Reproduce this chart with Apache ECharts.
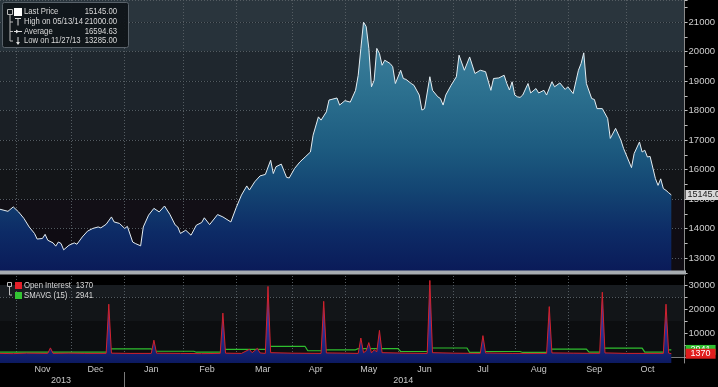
<!DOCTYPE html>
<html><head><meta charset="utf-8">
<script src="https://cdn.jsdelivr.net/npm/echarts@6/dist/echarts.min.js"></script>
<style>html,body{margin:0;padding:0;background:#000;}#c{width:718px;height:387px;}</style>
</head><body><div id="c"></div>
<script>
// ---------------- data ----------------
const axisStart = '2013-10-24';
const axisEnd = '2014-10-31';
const holidays = ['2013-12-25','2013-12-26','2014-01-01','2014-04-18','2014-04-21','2014-05-05','2014-05-26','2014-08-25'];
const monthNames = ['Jan','Feb','Mar','Apr','May','Jun','Jul','Aug','Sep','Oct','Nov','Dec'];

const priceDates = ['2013-10-24','2013-10-29','2013-10-31','2013-11-04','2013-11-06','2013-11-08','2013-11-12','2013-11-13','2013-11-15','2013-11-18','2013-11-19','2013-11-21','2013-11-22','2013-11-25','2013-11-26','2013-11-27','2013-11-29','2013-12-03','2013-12-04','2013-12-06','2013-12-10','2013-12-12','2013-12-16','2013-12-17','2013-12-19','2013-12-23','2013-12-24','2013-12-30','2014-01-02','2014-01-03','2014-01-07','2014-01-08','2014-01-10','2014-01-13','2014-01-15','2014-01-17','2014-01-21','2014-01-23','2014-01-27','2014-01-29','2014-01-30','2014-01-31','2014-02-04','2014-02-06','2014-02-10','2014-02-12','2014-02-13','2014-02-17','2014-02-20','2014-02-24','2014-02-27','2014-03-03','2014-03-05','2014-03-07','2014-03-10','2014-03-12','2014-03-14','2014-03-18','2014-03-20','2014-03-21','2014-03-24','2014-03-26','2014-03-28','2014-03-31','2014-04-02','2014-04-04','2014-04-08','2014-04-10','2014-04-11','2014-04-15','2014-04-16','2014-04-22','2014-04-23','2014-04-28','2014-04-29','2014-05-01','2014-05-06','2014-05-08','2014-05-09','2014-05-12','2014-05-13','2014-05-14','2014-05-15','2014-05-16','2014-05-19','2014-05-20','2014-05-21','2014-05-22','2014-05-23','2014-05-28','2014-05-29','2014-05-30','2014-06-03','2014-06-04','2014-06-05','2014-06-09','2014-06-10','2014-06-12','2014-06-13','2014-06-16','2014-06-18','2014-06-19','2014-06-23','2014-06-24','2014-06-25','2014-06-26','2014-06-30','2014-07-02','2014-07-03','2014-07-07','2014-07-09','2014-07-11','2014-07-15','2014-07-17','2014-07-21','2014-07-22','2014-07-24','2014-07-28','2014-07-29','2014-07-30','2014-07-31','2014-08-01','2014-08-04','2014-08-05','2014-08-06','2014-08-08','2014-08-11','2014-08-13','2014-08-14','2014-08-18','2014-08-19','2014-08-21','2014-08-22','2014-08-27','2014-08-29','2014-09-01','2014-09-03','2014-09-05','2014-09-08','2014-09-09','2014-09-10','2014-09-12','2014-09-15','2014-09-16','2014-09-18','2014-09-22','2014-09-23','2014-09-25','2014-09-29','2014-09-30','2014-10-03','2014-10-06','2014-10-08','2014-10-09','2014-10-10','2014-10-13','2014-10-14','2014-10-16','2014-10-17','2014-10-20','2014-10-21','2014-10-22','2014-10-23','2014-10-24'];
const priceValues = [14660,14590,14740,14570,14350,14060,13840,13650,13670,13810,13610,13520,13410,13550,13500,13285,13440,13520,13475,13720,13920,14010,14060,14030,14150,14400,14230,14180,14010,14080,13550,13500,13420,14060,14460,14690,14570,14770,14490,14130,14060,13840,13950,13780,14120,14210,14370,14140,14480,14400,14230,14710,15140,15450,15310,15590,15790,15840,16320,15870,16100,16190,15740,15720,16040,16260,16430,16600,17170,17790,17680,17960,18360,18430,18190,18340,18290,18690,19200,20110,21000,20850,20110,18810,19030,20110,19940,19540,19710,19600,19490,18920,19370,19090,19060,18920,18860,18530,18020,18070,19150,18690,18470,18410,18190,18530,18860,19150,19880,19370,19820,19260,19370,19320,18690,19090,19110,19200,18920,18700,18980,18530,18470,18450,18530,18920,18600,18750,18600,18690,18530,18980,18810,18940,18720,18810,18580,19370,19600,19960,18920,18410,18380,18070,18070,17740,17060,17400,17000,16720,16070,16550,16940,16600,16660,16430,16450,15700,15470,15690,15360,15300,15220,15145];
const averagePrice = 16594.63;

const oiDates = ['2013-10-24','2013-10-31','2013-11-07','2013-11-19','2013-11-20','2013-11-21','2013-11-29','2013-12-09','2013-12-19','2013-12-20','2013-12-23','2014-01-06','2014-01-16','2014-01-17','2014-01-20','2014-01-31','2014-02-12','2014-02-21','2014-02-24','2014-02-25','2014-03-05','2014-03-10','2014-03-11','2014-03-13','2014-03-14','2014-03-18','2014-03-19','2014-03-20','2014-04-01','2014-04-16','2014-04-17','2014-04-22','2014-05-01','2014-05-09','2014-05-12','2014-05-13','2014-05-14','2014-05-15','2014-05-16','2014-05-19','2014-05-20','2014-05-21','2014-05-22','2014-06-05','2014-06-17','2014-06-18','2014-06-19','2014-07-01','2014-07-15','2014-07-16','2014-07-17','2014-07-31','2014-08-19','2014-08-20','2014-08-21','2014-09-03','2014-09-17','2014-09-18','2014-09-19','2014-10-01','2014-10-21','2014-10-22','2014-10-23','2014-10-24'];
const oiValues = [1500,1400,1600,1500,3800,1500,1600,1500,1500,22000,1600,1500,1500,7000,1600,1500,1400,1500,18300,1600,1500,3200,1800,3600,1700,1500,29400,1800,1600,1500,23200,1700,1600,1500,7900,1800,2600,6000,1700,3000,2200,11100,1800,1600,1500,31900,1800,1600,1500,8900,1700,1500,1500,21000,1700,1600,1500,27000,1700,1500,1500,22000,1600,1370];
const smaDates = ['2013-10-24','2013-12-19','2013-12-20','2014-01-16','2014-01-17','2014-02-07','2014-02-10','2014-02-21','2014-02-24','2014-03-18','2014-03-19','2014-04-08','2014-04-09','2014-04-16','2014-04-17','2014-05-08','2014-05-09','2014-06-02','2014-06-03','2014-06-17','2014-06-18','2014-07-08','2014-07-09','2014-07-15','2014-07-16','2014-08-05','2014-08-06','2014-08-19','2014-08-20','2014-09-10','2014-09-11','2014-09-17','2014-09-18','2014-10-09','2014-10-10','2014-10-21','2014-10-22','2014-10-23','2014-10-24'];
const smaValues = [2000,2000,3400,3400,2400,2400,2000,2000,3200,3200,4400,4400,2600,2600,3000,3000,3500,3500,2300,2300,3750,3750,1900,1900,2300,2300,1900,1900,3300,3300,2000,2000,3700,3700,2000,2000,2980,2950,2941];
const lastOI = 1370;
const lastSMA = 2941;

// ---------------- helpers ----------------
const FONT = "'Liberation Sans',Arial,sans-serif";
function buildTradingDays() {
  const hol = new Set(holidays);
  const out = [];
  let t = Date.parse(axisStart + 'T00:00:00Z');
  const end = Date.parse(axisEnd + 'T00:00:00Z');
  while (t <= end) {
    const d = new Date(t);
    const w = d.getUTCDay();
    const s = d.toISOString().slice(0, 10);
    if (w !== 0 && w !== 6 && !hol.has(s)) out.push(s);
    t += 86400000;
  }
  return out;
}
const days = buildTradingDays();
const lastDataIdx = days.indexOf(priceDates[priceDates.length - 1]);
const monthStart = new Set();
for (let i = 1; i < days.length; i++) if (days[i].slice(0, 7) !== days[i - 1].slice(0, 7)) monthStart.add(i);
const monthMid = new Set();
const yearMid = new Set();
const yearStart = new Set();
(function () {
  const groups = {};
  days.forEach((d, i) => { const k = d.slice(0, 7); (groups[k] = groups[k] || []).push(i); });
  Object.keys(groups).forEach(k => {
    const g = groups[k];
    if (g.length < 10) return;
    const last = Math.min(g[g.length - 1], lastDataIdx);
    monthMid.add(Math.floor((g[0] + last) / 2));
  });
  const yg = {};
  days.forEach((d, i) => { const k = d.slice(0, 4); (yg[k] = yg[k] || []).push(i); });
  Object.keys(yg).forEach(k => {
    const g = yg[k];
    yearMid.add(Math.floor((g[0] + g[g.length - 1]) / 2));
    if (g[0] > 0) yearStart.add(g[0]);
  });
})();
function fmtDate(s) { return s.slice(5, 7) + '/' + s.slice(8, 10) + '/' + s.slice(2, 4); }
let hiI = 0, loI = 0;
priceValues.forEach((v, i) => { if (v > priceValues[hiI]) hiI = i; if (v < priceValues[loI]) loI = i; });
const lastPrice = priceValues[priceValues.length - 1];

const topMin = 12500, topMax = 21750, topStep = 500;
function topBand(v) {
  if (v >= 21000) return '#2a353d';
  if (v >= 20000) return '#27323a';
  if (v >= 19000) return '#1f272e';
  if (v >= 18000) return '#1d242b';
  if (v >= 17000) return '#1a1f25';
  if (v >= 16000) return '#16191d';
  if (v >= 15000) return '#131518';
  if (v >= 14000) return '#120f16';
  return '#0f0c13';
}
const topAreaColors = [];
for (let v = topMin; v < topMax; v += topStep) topAreaColors.push(topBand(v));

const botMin = -2500, botMax = 33750, botStep = 2500;
function botBand(v) {
  if (v >= 30000) return '#3f474c';
  if (v >= 25000) return '#323a3f';
  if (v >= 20000) return '#283035';
  if (v >= 15000) return '#1f2529';
  if (v >= 10000) return '#181c20';
  if (v >= 5000) return '#121518';
  return '#0c0e10';
}
const botAreaColors = [];
for (let v = botMin; v < botMax; v += botStep) botAreaColors.push(botBand(v));
const GRID_C = '#545c62';
const NONE = 'rgba(0,0,0,0)';
const botLineColors = [];
for (let v = botMin; v <= botMax; v += botStep) botLineColors.push(v > 0 && v % 10000 === 0 ? GRID_C : NONE);
const botTickValues = [];
for (let v = 0; v <= 30000; v += 5000) botTickValues.push(v);
const botLabelValues = [10000, 20000, 30000];

const chart = echarts.init(document.getElementById('c'), null, { renderer: 'canvas' });

const xBase = (grid) => ({
  type: 'category', gridIndex: grid, data: days, boundaryGap: false,
  axisLine: { show: false }, axisTick: { show: false }, axisLabel: { show: false },
  splitLine: { show: true, interval: (i) => monthStart.has(i), lineStyle: { color: GRID_C, type: [1, 2], width: 1 } }
});

const legendText = (x, y, text, align) => ({ type: 'text', x, y, scaleX: 0.86, style: { text, fill: '#d8d8d8', font: '9px ' + FONT, textAlign: align || 'left', textVerticalAlign: 'middle' }, z: 101 });
const endLabel = (value, text, bg, fg, pad) => ({
  silent: true, symbol: 'none', animation: false,
  lineStyle: { color: 'rgba(0,0,0,0)', width: 1, type: 'solid' },
  data: [{ yAxis: value }],
  label: { show: true, position: 'end', distance: 1, formatter: text, color: fg, backgroundColor: bg, fontSize: 9, fontFamily: FONT, padding: pad }
});

const option = {
  backgroundColor: '#000',
  animation: false,
  grid: [
    { left: 0, right: 32, top: 0, height: 273 },
    { left: 0, right: 32, top: 276, height: 87 }
  ],
  xAxis: [
    xBase(0),
    Object.assign(xBase(1), {
      axisLine: { show: true, lineStyle: { color: '#7a7a7a' } },
      axisTick: { show: true, interval: (i) => monthStart.has(i), length: 3, lineStyle: { color: '#9a9a9a' } },
      axisLabel: { show: true, interval: (i) => monthMid.has(i), formatter: (v) => monthNames[+v.slice(5, 7) - 1], color: '#c8c8c8', fontSize: 9, fontFamily: FONT, margin: 2 }
    }),
    {
      type: 'category', gridIndex: 1, data: days, boundaryGap: false, position: 'bottom', offset: 9,
      axisLine: { show: false },
      axisTick: { show: true, interval: (i) => yearStart.has(i), length: 16, lineStyle: { color: '#7a7a7a' } },
      axisLabel: { show: true, interval: (i) => yearMid.has(i), formatter: (v) => v.slice(0, 4), color: '#c8c8c8', fontSize: 9, fontFamily: FONT, margin: 4 },
      splitLine: { show: false }
    }
  ],
  yAxis: [
    {
      type: 'value', gridIndex: 0, position: 'right', min: topMin, max: topMax, interval: topStep,
      axisLine: { show: true, lineStyle: { color: '#8a8a8a' } },
      axisTick: { show: true, length: 3, lineStyle: { color: '#bdbdbd' } },
      axisLabel: { formatter: (v) => (v % 1000 === 0 ? String(v) : ''), color: '#cfcfcf', fontSize: 9.5, fontFamily: FONT, margin: 4 },
      splitLine: { show: true, showMinLine: true, lineStyle: { color: [NONE, GRID_C], type: [1, 2] } },
      splitArea: { show: true, areaStyle: { color: topAreaColors } }
    },
    {
      type: 'value', gridIndex: 1, position: 'right', min: botMin, max: botMax, interval: botStep,
      axisLine: { show: true, lineStyle: { color: '#8a8a8a' } },
      axisTick: { show: true, length: 3, customValues: botTickValues, lineStyle: { color: '#bdbdbd' } },
      axisLabel: { customValues: botLabelValues, formatter: (v) => (v > 0 && v % 10000 === 0 ? String(v) : ''), color: '#cfcfcf', fontSize: 9.5, fontFamily: FONT, margin: 4 },
      splitLine: { show: true, showMinLine: true, lineStyle: { color: botLineColors, type: [1, 2] } },
      splitArea: { show: true, areaStyle: { color: botAreaColors } }
    }
  ],
  series: [
    {
      name: 'Last Price', type: 'line', xAxisIndex: 0, yAxisIndex: 0,
      data: priceDates.map((d, i) => [d, priceValues[i]]),
      symbol: 'none', lineStyle: { color: '#e4edf2', width: 1 },
      areaStyle: { origin: 'start', opacity: 1, color: { type: 'linear', x: 0, y: 0, x2: 0, y2: 273, global: true, colorStops: [
        { offset: 0, color: '#4a8ca4' }, { offset: 0.12, color: '#3f829d' }, { offset: 0.35, color: '#2b6f8e' },
        { offset: 0.55, color: '#1c5a7f' }, { offset: 0.7, color: '#134472' }, { offset: 0.85, color: '#0d2b66' }, { offset: 1, color: '#0a1a58' } ] } },
      markLine: endLabel(lastPrice, lastPrice.toFixed(2), '#d8d8d8', '#1a1a1a', [1, 2, 0, 2]),
      z: 3
    },
    {
      name: 'SMAVG (15)', type: 'line', xAxisIndex: 1, yAxisIndex: 1,
      data: smaDates.map((d, i) => [d, smaValues[i]]),
      symbol: 'none', lineStyle: { color: '#2fbf2f', width: 1.2 },
      markLine: endLabel(lastSMA, String(lastSMA), '#2fbf2f', '#ffffff', [1, 5, 0, 5]),
      z: 4
    },
    {
      name: 'Open Interest', type: 'line', xAxisIndex: 1, yAxisIndex: 1,
      data: oiDates.map((d, i) => [d, oiValues[i]]),
      symbol: 'none', lineStyle: { color: '#d3222c', width: 1 },
      areaStyle: { origin: 'start', opacity: 1, color: { type: 'linear', x: 0, y: 276, x2: 0, y2: 363, global: true, colorStops: [
        { offset: 0, color: '#5a4ab8' }, { offset: 0.6, color: '#28339a' }, { offset: 1, color: '#0c1a60' } ] } },
      markLine: endLabel(lastOI, String(lastOI), '#e01e1e', '#ffffff', [1, 5, 0, 5]),
      z: 5
    }
  ],
  graphic: [
    { type: 'rect', shape: { x: 0, y: 270.5, width: 686, height: 4 }, style: { fill: '#a7acb0' }, z: 100 },
    // top legend
    { type: 'rect', shape: { x: 2.5, y: 2.5, width: 126, height: 45, r: 2 }, style: { fill: 'rgba(14,20,24,0.92)', stroke: '#59626a', lineWidth: 1 }, z: 100 },
    { type: 'rect', shape: { x: 7.5, y: 9.5, width: 5, height: 5 }, style: { fill: 'none', stroke: '#bbbbbb', lineWidth: 1 }, z: 101 },
    { type: 'polyline', shape: { points: [[10, 14.5], [10, 41], [13, 41]] }, style: { stroke: '#bbbbbb', lineWidth: 1, fill: 'none' }, z: 101 },
    { type: 'line', shape: { x1: 10, y1: 22, x2: 13, y2: 22 }, style: { stroke: '#bbbbbb', lineWidth: 1 }, z: 101 },
    { type: 'line', shape: { x1: 10, y1: 31.5, x2: 13, y2: 31.5 }, style: { stroke: '#bbbbbb', lineWidth: 1 }, z: 101 },
    { type: 'rect', shape: { x: 14, y: 8, width: 8, height: 8 }, style: { fill: '#ffffff' }, z: 101 },
    { type: 'line', shape: { x1: 15, y1: 18.5, x2: 21, y2: 18.5 }, style: { stroke: '#dddddd', lineWidth: 1 }, z: 101 },
    { type: 'line', shape: { x1: 18, y1: 18.5, x2: 18, y2: 25.5 }, style: { stroke: '#dddddd', lineWidth: 1 }, z: 101 },
    { type: 'line', shape: { x1: 14, y1: 31.5, x2: 22, y2: 31.5 }, style: { stroke: '#dddddd', lineWidth: 1 }, z: 101 },
    { type: 'polygon', shape: { points: [[16, 29.5], [19, 31.5], [16, 33.5]] }, style: { fill: '#dddddd' }, z: 101 },
    { type: 'line', shape: { x1: 18, y1: 37, x2: 18, y2: 44 }, style: { stroke: '#dddddd', lineWidth: 1 }, z: 101 },
    { type: 'polygon', shape: { points: [[16, 42], [20, 42], [18, 45]] }, style: { fill: '#dddddd' }, z: 101 },
    legendText(24, 12, 'Last Price'), legendText(117, 12, lastPrice.toFixed(2), 'right'),
    legendText(24, 22, 'High on ' + fmtDate(priceDates[hiI])), legendText(117, 22, priceValues[hiI].toFixed(2), 'right'),
    legendText(24, 31.5, 'Average'), legendText(117, 31.5, averagePrice.toFixed(2), 'right'),
    legendText(24, 41, 'Low on ' + fmtDate(priceDates[loI])), legendText(117, 41, priceValues[loI].toFixed(2), 'right'),
    // bottom legend
    { type: 'rect', shape: { x: 7.5, y: 282.5, width: 4, height: 4 }, style: { fill: 'none', stroke: '#bbbbbb', lineWidth: 1 }, z: 101 },
    { type: 'polyline', shape: { points: [[9.5, 287], [9.5, 295], [12, 295]] }, style: { stroke: '#bbbbbb', lineWidth: 1, fill: 'none' }, z: 101 },
    { type: 'rect', shape: { x: 15, y: 282, width: 7, height: 7 }, style: { fill: '#e3202a' }, z: 101 },
    { type: 'rect', shape: { x: 15, y: 292, width: 7, height: 7 }, style: { fill: '#33c433' }, z: 101 },
    legendText(24, 286, 'Open Interest'), legendText(93, 286, String(lastOI), 'right'),
    legendText(24, 296, 'SMAVG (15)'), legendText(93, 296, String(lastSMA), 'right')
  ]
};
chart.setOption(option);
</script>
</body></html>
